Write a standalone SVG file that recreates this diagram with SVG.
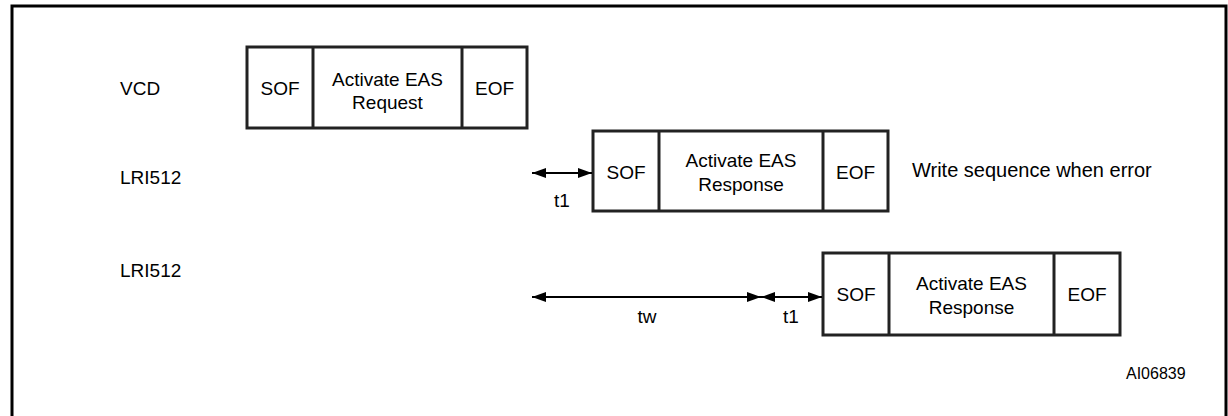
<svg xmlns="http://www.w3.org/2000/svg" width="1228" height="416" viewBox="0 0 1228 416">
<style>
text{font-family:"Liberation Sans",Arial,sans-serif;font-size:19px;fill:#000}
.c{text-anchor:middle}
.box{fill:#fff;stroke:#222;stroke-width:3}
.div{stroke:#222;stroke-width:3}
.arr{stroke:#000;stroke-width:2;fill:none}
</style>
<defs>
<marker id="ah" viewBox="0 0 14 10" refX="14" refY="5" markerWidth="14" markerHeight="10" markerUnits="userSpaceOnUse" orient="auto-start-reverse">
<path d="M0,0 L14,5 L0,10 Z" fill="#000"/>
</marker>
</defs>
<rect width="1228" height="416" fill="#fff"/>
<path d="M12,416 V6 H1226 V416" fill="none" stroke="#000" stroke-width="3"/>
<g id="labels">
<text x="120" y="95">VCD</text>
<text x="120" y="184">LRI512</text>
<text x="120" y="277">LRI512</text>
<text x="912" y="177" style="font-size:20px">Write sequence when error</text>
<text x="1126" y="379" style="font-size:16px">AI06839</text>
</g>
<g id="vcd">
<rect class="box" x="247" y="47" width="280" height="81"/>
<line class="div" x1="313" y1="47" x2="313" y2="128"/>
<line class="div" x1="462" y1="47" x2="462" y2="128"/>
<text class="c" x="280" y="95">SOF</text>
<text class="c" x="387.5" y="86">Activate EAS</text>
<text class="c" x="387.5" y="109">Request</text>
<text class="c" x="494.5" y="95">EOF</text>
</g>
<g id="resp1">
<rect class="box" x="593" y="131" width="295" height="80"/>
<line class="div" x1="659" y1="131" x2="659" y2="211"/>
<line class="div" x1="823" y1="131" x2="823" y2="211"/>
<text class="c" x="626" y="179">SOF</text>
<text class="c" x="741" y="167">Activate EAS</text>
<text class="c" x="741" y="191">Response</text>
<text class="c" x="855.5" y="179">EOF</text>
</g>
<g id="resp2">
<rect class="box" x="823" y="253" width="297" height="82"/>
<line class="div" x1="889" y1="253" x2="889" y2="335"/>
<line class="div" x1="1054" y1="253" x2="1054" y2="335"/>
<text class="c" x="856" y="301">SOF</text>
<text class="c" x="971.5" y="290">Activate EAS</text>
<text class="c" x="971.5" y="314">Response</text>
<text class="c" x="1087" y="301">EOF</text>
</g>
<g id="connectors">
<line class="arr" x1="532" y1="173" x2="592" y2="173" marker-start="url(#ah)" marker-end="url(#ah)"/>
<line class="arr" x1="532" y1="297" x2="761" y2="297" marker-start="url(#ah)" marker-end="url(#ah)"/>
<line class="arr" x1="761" y1="297" x2="822" y2="297" marker-start="url(#ah)" marker-end="url(#ah)"/>
</g>
<g id="timing-labels">
<text class="c" x="562" y="207">t1</text>
<text class="c" x="647" y="323">tw</text>
<text class="c" x="791" y="323">t1</text>
</g>
</svg>
